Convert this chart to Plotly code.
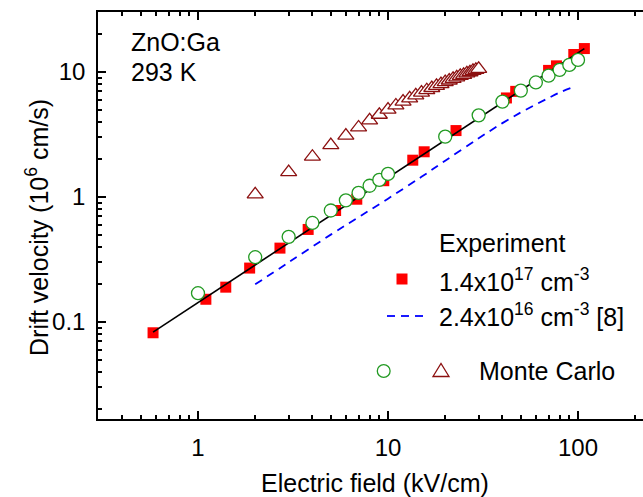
import plotly.graph_objects as go

# ---------------- data ----------------
exp_field = [0.58, 1.1, 1.4, 1.87, 2.7, 3.8, 5.3, 6.85, 9.5, 13.5, 15.5, 22.8,
             42, 47, 70, 77, 95, 108]
exp_velocity = [0.082, 0.152, 0.19, 0.27, 0.39, 0.55, 0.78, 0.96, 1.35, 1.97, 2.3, 3.4,
                6.2, 7.0, 10.3, 11.2, 13.8, 15.4]

fit_field = [0.58, 108]
fit_velocity = [0.083, 15.4]

ref_field = [2, 3, 5, 7, 10, 15, 20, 30, 40, 50, 60, 70, 80, 95]
ref_velocity = [0.2, 0.3, 0.5, 0.69, 0.97, 1.45, 1.95, 2.95, 3.9, 4.75, 5.5, 6.2, 6.85, 7.6]

mc_circle_field = [1, 2, 3, 4, 5, 6, 7, 8, 9, 10, 20, 30, 40, 50, 60, 70, 80, 90, 100]
mc_circle_velocity = [0.17, 0.33, 0.48, 0.62, 0.78, 0.94, 1.08, 1.23, 1.37, 1.53,
                      3.04, 4.5, 5.8, 7.1, 8.25, 9.35, 10.4, 11.4, 12.5]

mc_tri_field = [2, 3, 4, 5, 6, 7, 8, 9, 10, 11, 12, 13, 14, 15, 16, 17, 18, 19, 20,
                21, 22, 23, 24, 25, 26, 27, 28, 29, 30]
mc_tri_velocity = [1.05, 1.58, 2.1, 2.6, 3.1, 3.6, 4.1, 4.55, 5.0, 5.4, 5.8, 6.15, 6.5,
                   6.85, 7.15, 7.45, 7.75, 8.0, 8.3, 8.55, 8.8, 9.05, 9.3, 9.5, 9.75,
                   9.95, 10.2, 10.4, 10.6]

x_major_ticks = [1, 10, 100]
x_major_labels = ["1", "10", "100"]
x_minor_ticks = [0.4, 0.5, 0.6, 0.7, 0.8, 0.9, 2, 3, 4, 5, 6, 7, 8, 9,
                 20, 30, 40, 50, 60, 70, 80, 90, 200]
y_major_ticks = [0.1, 1, 10]
y_major_labels = ["0.1", "1", "10"]
y_minor_ticks = [0.02, 0.03, 0.04, 0.05, 0.06, 0.07, 0.08, 0.09,
                 0.2, 0.3, 0.4, 0.5, 0.6, 0.7, 0.8, 0.9,
                 2, 3, 4, 5, 6, 7, 8, 9, 20]

# ---------------- styling ----------------
FONT = "Liberation Sans, Arial, sans-serif"
RED = "#ff0000"
BLUE = "#0000ff"
GREEN = "#229a22"
DARKRED = "#8c1010"

W, H = 643, 497
L, R, T, B = 98, 0, 12, 78
PW, PH = W - L - R, H - T - B


def px(x):
    return (x - L) / PW


def py(y):
    return (H - B - y) / PH


fig = go.Figure()

fig.add_trace(go.Scatter(x=exp_field, y=exp_velocity, mode="markers",
                         marker=dict(symbol="square", size=11, color=RED, line=dict(width=0)),
                         showlegend=False))
fig.add_trace(go.Scatter(x=fit_field, y=fit_velocity, mode="lines",
                         line=dict(color="black", width=1.6), showlegend=False))
fig.add_trace(go.Scatter(x=ref_field, y=ref_velocity, mode="lines",
                         line=dict(color=BLUE, width=1.8, dash="8px,6px", shape="spline"),
                         showlegend=False))
fig.add_trace(go.Scatter(x=mc_circle_field, y=mc_circle_velocity, mode="markers",
                         marker=dict(symbol="circle", size=13, color="white",
                                     line=dict(width=1.3, color=GREEN)),
                         showlegend=False))
fig.add_trace(go.Scatter(x=mc_tri_field, y=mc_tri_velocity, mode="markers",
                         marker=dict(symbol="triangle-up", size=14, color="white",
                                     line=dict(width=1.3, color=DARKRED)),
                         showlegend=False))

axis_common = dict(type="log", showgrid=False, zeroline=False, showline=True,
                   linecolor="black", linewidth=1.5, ticks="inside", ticklen=8,
                   tickwidth=1.5, tickcolor="black",
                   tickfont=dict(family=FONT, size=24, color="black"))

fig.update_xaxes(**axis_common, range=[-0.5263, 2.342], mirror="allticks",
                 tickmode="array", tickvals=x_major_ticks, ticktext=x_major_labels,
                 ticklabelstandoff=6,
                 minor=dict(tickmode="array", tickvals=x_minor_ticks, ticks="inside",
                            ticklen=4, tickwidth=1.5, tickcolor="black", showgrid=False))
fig.update_yaxes(**axis_common, range=[-1.776, 1.48], mirror=False,
                 tickmode="array", tickvals=y_major_ticks, ticktext=y_major_labels,
                 ticklabelstandoff=6,
                 minor=dict(tickmode="array", tickvals=y_minor_ticks, ticks="inside",
                            ticklen=4, tickwidth=1.5, tickcolor="black", showgrid=False))

ann = []


def text(x, y, s, xanchor="left", size=25, angle=0):
    ann.append(dict(x=px(x), y=py(y), xref="paper", yref="paper", text=s,
                    showarrow=False, xanchor=xanchor, yanchor="middle",
                    textangle=angle,
                    font=dict(family=FONT, size=size, color="black")))


text(129, 42, "ZnO:Ga")
text(129, 72, "293 K")
text(437, 243, "Experiment")
text(437, 280, "1.4x10<sup>17</sup> cm<sup>-3</sup>")
text(437, 315, "2.4x10<sup>16</sup> cm<sup>-3</sup> [8]")
text(477, 371, "Monte Carlo")
text(375, 483, "Electric field (kV/cm)", xanchor="center")
ann.append(dict(x=px(37), y=py(228), xref="paper", yref="paper",
                text="Drift velocity (10<sup>6</sup> cm/s)", showarrow=False,
                xanchor="center", yanchor="middle", textangle=-90,
                font=dict(family=FONT, size=25, color="black")))

shapes = []
# legend swatches
shapes.append(dict(type="rect", xref="paper", yref="paper",
                   x0=px(396.5), x1=px(407.5), y0=py(284.5), y1=py(273.5),
                   fillcolor=RED, line=dict(width=0)))
for x0 in (387, 401, 415):
    shapes.append(dict(type="line", xref="paper", yref="paper",
                       x0=px(x0), x1=px(x0 + 8), y0=py(316), y1=py(316),
                       line=dict(color=BLUE, width=1.8)))
shapes.append(dict(type="circle", xref="paper", yref="paper",
                   x0=px(377.3), x1=px(390.1), y0=py(377.4), y1=py(364.6),
                   fillcolor="white", line=dict(color=GREEN, width=1.3)))
shapes.append(dict(type="path", xref="paper", yref="paper",
                   path=f"M {px(433)} {py(376.5)} L {px(449)} {py(376.5)} L {px(441)} {py(363.5)} Z",
                   fillcolor="white", line=dict(color=DARKRED, width=1.3)))

fig.update_layout(width=W, height=H, margin=dict(l=L, r=R, t=T, b=B, pad=0),
                  plot_bgcolor="white", paper_bgcolor="white",
                  annotations=ann, shapes=shapes, showlegend=False,
                  font=dict(family=FONT, color="black"))

# remove the browser's default 8px page margin so the 643x497 figure fills the window
fig.write_html("out.html",
               config={"displayModeBar": False},
               post_script="document.body.style.margin='0';document.body.style.overflow='hidden';")
